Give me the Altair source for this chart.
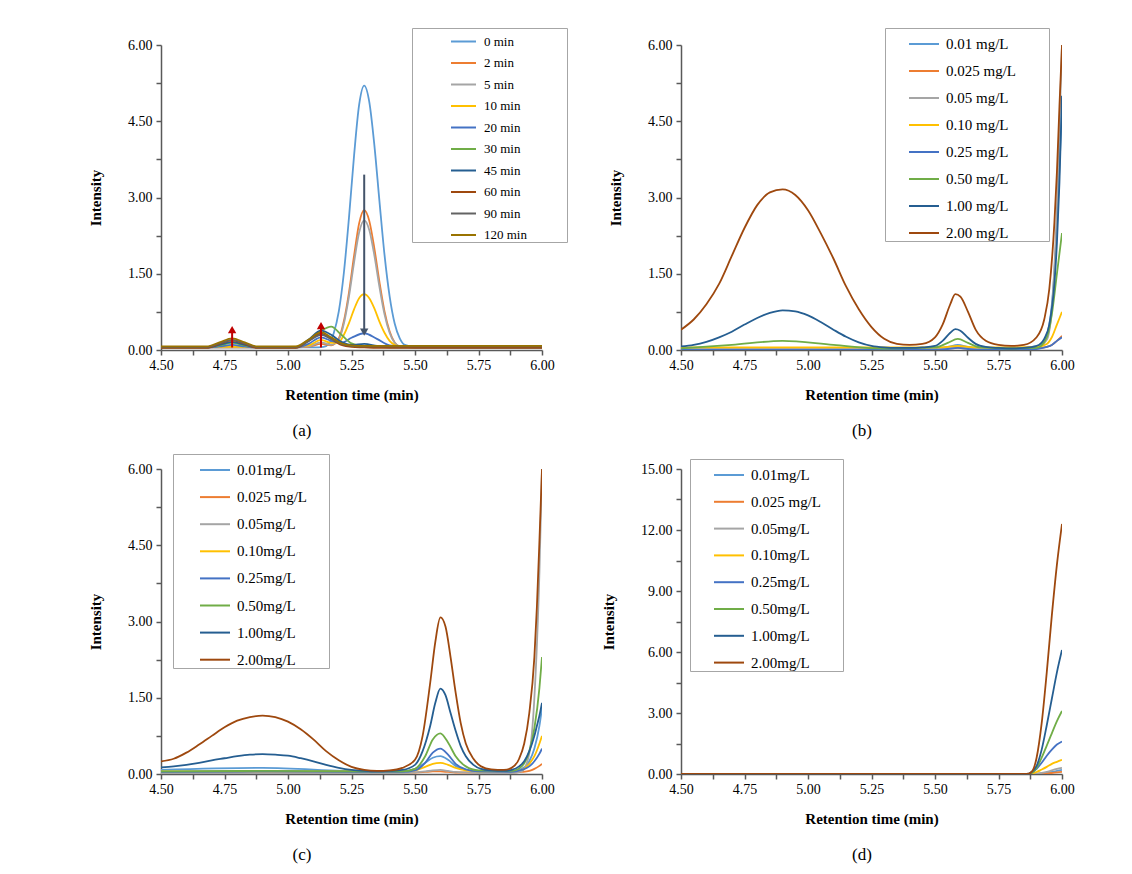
import altair as alt
import pandas as pd

FONT = "Liberation Serif"
BLANK = "\u2800"

# ---------------- tick values ----------------
X_TICKS = [4.5, 4.625, 4.75, 4.875, 5.0, 5.125, 5.25, 5.375, 5.5, 5.625, 5.75, 5.875, 6.0]
Y_TICKS_6 = [0, 0.75, 1.5, 2.25, 3, 3.75, 4.5, 5.25, 6]
Y_TICKS_15 = [0, 1.5, 3, 4.5, 6, 7.5, 9, 10.5, 12, 13.5, 15]

# ---------------- colours ----------------
PAL_A = ["#5B9BD5", "#ED7D31", "#A5A5A5", "#FFC000", "#4472C4", "#70AD47",
         "#255E91", "#9E480E", "#636363", "#997300"]
PAL_B = PAL_A[:8]

# ---------------- panel (a) ----------------
A_NAMES = ["0 min", "2 min", "5 min", "10 min", "20 min", "30 min", "45 min",
           "60 min", "90 min", "120 min"]
A_X_PEAK0 = [4.50, 4.75, 5.00, 5.10, 5.14, 5.16, 5.18, 5.20, 5.22, 5.24, 5.26, 5.28,
             5.30, 5.32, 5.34, 5.36, 5.38, 5.40, 5.42, 5.44, 5.46, 5.50, 5.75, 6.00]
A_Y_0MIN = [0.06, 0.05, 0.05, 0.05, 0.06, 0.12, 0.33, 0.76, 1.52, 2.60, 3.82, 4.82,
            5.20, 4.88, 4.03, 2.93, 1.87, 1.06, 0.52, 0.23, 0.10, 0.06, 0.05, 0.05]
A_X_MAIN = [4.50, 4.75, 5.00, 5.08, 5.13, 5.17, 5.20, 5.22, 5.24, 5.26, 5.28,
            5.30, 5.32, 5.34, 5.36, 5.38, 5.40, 5.42, 5.44, 5.50, 5.75, 6.00]
A_Y_2MIN = [0.05, 0.05, 0.05, 0.06, 0.12, 0.09, 0.23, 0.57, 1.13, 1.85, 2.49,
            2.75, 2.54, 2.00, 1.34, 0.76, 0.37, 0.15, 0.07, 0.05, 0.05, 0.05]
A_Y_5MIN = [0.05, 0.05, 0.05, 0.07, 0.15, 0.10, 0.20, 0.52, 1.05, 1.72, 2.31,
            2.55, 2.36, 1.86, 1.24, 0.70, 0.34, 0.14, 0.07, 0.05, 0.05, 0.05]
A_Y_10MIN = [0.06, 0.06, 0.06, 0.09, 0.20, 0.14, 0.15, 0.30, 0.53, 0.80, 1.02,
             1.10, 1.02, 0.82, 0.56, 0.34, 0.18, 0.10, 0.07, 0.06, 0.06, 0.06]
A_X_BUMP = [4.50, 4.68, 4.73, 4.78, 4.83, 4.88, 5.03, 5.08, 5.13, 5.17, 5.21,
            5.25, 5.30, 5.35, 5.40, 5.50, 6.00]
A_Y_20MIN = [0.05, 0.05, 0.07, 0.10, 0.07, 0.05, 0.05, 0.12, 0.25, 0.18, 0.14,
             0.24, 0.33, 0.22, 0.09, 0.05, 0.05]
A_Y_30MIN = [0.05, 0.05, 0.09, 0.14, 0.09, 0.05, 0.05, 0.18, 0.38, 0.46, 0.30,
             0.13, 0.07, 0.06, 0.05, 0.05, 0.05]
A_Y_45MIN = [0.05, 0.05, 0.10, 0.16, 0.10, 0.05, 0.05, 0.20, 0.38, 0.30, 0.16,
             0.10, 0.12, 0.08, 0.05, 0.05, 0.05]
A_Y_60MIN = [0.04, 0.04, 0.12, 0.19, 0.12, 0.04, 0.04, 0.18, 0.32, 0.22, 0.10,
             0.06, 0.05, 0.04, 0.04, 0.04, 0.04]
A_Y_90MIN = [0.06, 0.06, 0.13, 0.20, 0.13, 0.06, 0.06, 0.17, 0.30, 0.22, 0.12,
             0.08, 0.07, 0.07, 0.07, 0.07, 0.07]
A_Y_120MIN = [0.07, 0.07, 0.15, 0.23, 0.15, 0.07, 0.07, 0.20, 0.35, 0.25, 0.13,
              0.09, 0.08, 0.08, 0.08, 0.08, 0.08]

A_ARROW_X = [4.78, 5.13, 5.30]
A_ARROW_FROM = [0.05, 0.05, 3.45]
A_ARROW_TO = [0.40, 0.48, 0.35]
A_ARROW_SHAPE = ["triangle-up", "triangle-up", "triangle-down"]
A_ARROW_COLOR = ["#C00000", "#C00000", "#44546A"]

# ---------------- panel (b) ----------------
B_NAMES = ["0.01 mg/L", "0.025 mg/L", "0.05 mg/L", "0.10 mg/L", "0.25 mg/L",
           "0.50 mg/L", "1.00 mg/L", "2.00 mg/L"]
B_X_BIG = [4.50, 4.55, 4.60, 4.65, 4.70, 4.75, 4.80, 4.85, 4.90, 4.95, 5.00, 5.05,
           5.10, 5.15, 5.20, 5.25, 5.30, 5.35, 5.40, 5.45, 5.50, 5.53, 5.56, 5.58,
           5.60, 5.63, 5.66, 5.70, 5.75, 5.80, 5.85, 5.90, 5.93, 5.95, 5.97, 5.98,
           5.99, 6.00]
B_Y_200 = [0.40, 0.60, 0.90, 1.30, 1.85, 2.40, 2.85, 3.10, 3.16, 3.05, 2.75, 2.30,
           1.80, 1.25, 0.80, 0.45, 0.22, 0.12, 0.10, 0.12, 0.25, 0.50, 0.90, 1.10,
           1.05, 0.75, 0.40, 0.18, 0.10, 0.08, 0.10, 0.25, 0.60, 1.20, 2.50, 3.50,
           4.80, 6.00]
B_Y_100 = [0.07, 0.10, 0.16, 0.25, 0.36, 0.50, 0.63, 0.73, 0.78, 0.76, 0.68, 0.55,
           0.40, 0.26, 0.15, 0.08, 0.05, 0.04, 0.04, 0.05, 0.08, 0.18, 0.34, 0.41,
           0.38, 0.24, 0.12, 0.06, 0.04, 0.03, 0.04, 0.08, 0.22, 0.50, 1.30, 2.10,
           3.30, 5.00]
B_X_SMALL = [4.50, 4.70, 4.90, 5.10, 5.30, 5.50, 5.55, 5.59, 5.63, 5.68, 5.80,
             5.90, 5.94, 5.96, 5.98, 6.00]
B_Y_001 = [0.03, 0.03, 0.04, 0.03, 0.02, 0.03, 0.06, 0.10, 0.06, 0.03, 0.02,
           0.05, 0.30, 0.90, 2.40, 4.80]
B_Y_0025 = [0.02, 0.02, 0.02, 0.02, 0.02, 0.02, 0.03, 0.04, 0.03, 0.02, 0.02,
            0.03, 0.06, 0.10, 0.18, 0.28]
B_Y_005 = [0.02, 0.02, 0.02, 0.02, 0.02, 0.02, 0.04, 0.08, 0.04, 0.02, 0.02,
           0.04, 0.20, 0.80, 2.80, 6.00]
B_Y_010 = [0.05, 0.05, 0.05, 0.05, 0.05, 0.05, 0.06, 0.08, 0.06, 0.05, 0.05,
           0.06, 0.12, 0.25, 0.50, 0.75]
B_Y_025 = [0.00, 0.00, 0.00, 0.00, 0.00, 0.00, 0.02, 0.04, 0.02, 0.00, 0.00,
           0.02, 0.06, 0.10, 0.18, 0.25]
B_Y_050 = [0.03, 0.10, 0.18, 0.10, 0.03, 0.05, 0.14, 0.22, 0.14, 0.05, 0.03,
           0.04, 0.25, 0.70, 1.50, 2.30]

# ---------------- panel (c) ----------------
CD_NAMES = ["0.01mg/L", "0.025 mg/L", "0.05mg/L", "0.10mg/L", "0.25mg/L",
            "0.50mg/L", "1.00mg/L", "2.00mg/L"]
C_X_BIG = [4.50, 4.55, 4.60, 4.65, 4.70, 4.75, 4.80, 4.85, 4.90, 4.95, 5.00, 5.05,
           5.10, 5.15, 5.20, 5.25, 5.30, 5.35, 5.40, 5.45, 5.50, 5.53, 5.56, 5.58,
           5.60, 5.62, 5.64, 5.66, 5.68, 5.70, 5.73, 5.76, 5.80, 5.85, 5.88, 5.91,
           5.93, 5.95, 5.97, 5.98, 5.99, 6.00]
C_Y_200 = [0.25, 0.30, 0.42, 0.58, 0.75, 0.92, 1.05, 1.12, 1.15, 1.12, 1.03, 0.88,
           0.68, 0.45, 0.27, 0.14, 0.08, 0.06, 0.07, 0.12, 0.28, 0.75, 1.80, 2.60,
           3.08, 2.90, 2.30, 1.60, 1.00, 0.60, 0.30, 0.15, 0.09, 0.08, 0.12, 0.30,
           0.60, 1.20, 2.30, 3.30, 4.60, 6.00]
C_Y_100 = [0.13, 0.15, 0.18, 0.22, 0.27, 0.31, 0.35, 0.38, 0.39, 0.38, 0.36, 0.31,
           0.25, 0.18, 0.12, 0.08, 0.06, 0.05, 0.06, 0.08, 0.18, 0.45, 0.95, 1.40,
           1.68, 1.55, 1.20, 0.85, 0.55, 0.35, 0.18, 0.10, 0.07, 0.06, 0.08, 0.15,
           0.25, 0.45, 0.75, 0.95, 1.15, 1.40]
C_X_SMALL = [4.50, 4.90, 5.30, 5.45, 5.50, 5.54, 5.57, 5.60, 5.63, 5.66, 5.70,
             5.75, 5.88, 5.92, 5.95, 5.97, 5.99, 6.00]
C_Y_001 = [0.08, 0.12, 0.05, 0.05, 0.10, 0.22, 0.32, 0.35, 0.28, 0.16, 0.08,
           0.06, 0.05, 0.10, 0.25, 0.50, 0.95, 1.30]
C_Y_0025 = [0.03, 0.03, 0.03, 0.03, 0.03, 0.04, 0.05, 0.05, 0.04, 0.03, 0.03,
            0.03, 0.03, 0.04, 0.06, 0.10, 0.16, 0.20]
C_Y_005 = [0.02, 0.02, 0.02, 0.02, 0.03, 0.05, 0.07, 0.08, 0.06, 0.04, 0.03,
           0.02, 0.02, 0.05, 0.40, 1.50, 4.00, 6.00]
C_Y_010 = [0.05, 0.05, 0.05, 0.05, 0.07, 0.14, 0.20, 0.22, 0.18, 0.12, 0.07,
           0.05, 0.05, 0.08, 0.20, 0.35, 0.60, 0.75]
C_Y_025 = [0.04, 0.05, 0.04, 0.04, 0.07, 0.22, 0.42, 0.50, 0.38, 0.20, 0.09,
           0.05, 0.04, 0.08, 0.15, 0.25, 0.40, 0.50]
C_Y_050 = [0.05, 0.06, 0.05, 0.05, 0.10, 0.35, 0.68, 0.80, 0.62, 0.35, 0.15,
           0.07, 0.06, 0.15, 0.45, 0.90, 1.70, 2.30]

# ---------------- panel (d) ----------------
D_X = [4.50, 5.80, 5.86, 5.88, 5.90, 5.92, 5.94, 5.96, 5.98, 6.00]
D_Y_001 = [0.0, 0.0, 0.0, 0.0, 0.01, 0.03, 0.06, 0.10, 0.15, 0.20]
D_Y_0025 = [0.0, 0.0, 0.0, 0.0, 0.0, 0.02, 0.03, 0.05, 0.08, 0.10]
D_Y_005 = [0.0, 0.0, 0.0, 0.0, 0.02, 0.05, 0.10, 0.18, 0.25, 0.30]
D_Y_010 = [0.0, 0.0, 0.0, 0.02, 0.10, 0.22, 0.35, 0.50, 0.60, 0.70]
D_Y_025 = [0.0, 0.0, 0.0, 0.05, 0.25, 0.55, 0.90, 1.20, 1.45, 1.60]
D_Y_050 = [0.0, 0.0, 0.0, 0.05, 0.30, 0.80, 1.40, 2.00, 2.60, 3.10]
D_Y_100 = [0.0, 0.0, 0.0, 0.10, 0.40, 1.20, 2.40, 3.70, 5.00, 6.10]
D_Y_200 = [0.0, 0.0, 0.0, 0.10, 0.80, 2.50, 5.00, 7.80, 10.30, 12.30]

W, H = 381, 305
AX_COLOR = "#595959"


def make_df(names, xs_list, ys_list):
    rows = []
    for i, (n, xs, ys) in enumerate(zip(names, xs_list, ys_list)):
        for x, y in zip(xs, ys):
            rows.append({"series": n, "x": x, "y": y, "k": i})
    return pd.DataFrame(rows)


def x_enc(field="x"):
    return alt.X(
        f"{field}:Q",
        scale=alt.Scale(domain=[4.5, 6.0], nice=False, zero=False),
        axis=alt.Axis(
            title="Retention time (min)", values=X_TICKS,
            labelExpr="abs(datum.value*4 - round(datum.value*4)) < 0.001 ? format(datum.value, '.2f') : ''",
            labelFont=FONT, labelFontSize=14, labelColor="black", labelPadding=3,
            labelFlush=False, labelOverlap=False,
            titleFont=FONT, titleFontSize=15, titleFontWeight="bold", titleColor="black",
            titlePadding=15, tickSize=5, tickColor=AX_COLOR, tickWidth=1.5,
            domainColor=AX_COLOR, domainWidth=1.5, grid=False,
        ),
    )


def y_enc(ymax, ticks, step, field="y"):
    return alt.Y(
        f"{field}:Q",
        scale=alt.Scale(domain=[0, ymax], nice=False),
        axis=alt.Axis(
            title="Intensity", values=ticks,
            labelExpr=f"abs(datum.value/{step} - round(datum.value/{step})) < 0.001 ? format(datum.value, '.2f') : ''",
            labelFont=FONT, labelFontSize=14, labelColor="black", labelPadding=4,
            labelFlush=False, labelOverlap=False,
            titleFont=FONT, titleFontSize=15, titleFontWeight="bold", titleColor="black",
            titlePadding=24, tickSize=5, tickColor=AX_COLOR, tickWidth=1.5,
            domainColor=AX_COLOR, domainWidth=1.5, grid=False,
        ),
    )


def panel(names, pal, xs_list, ys_list, ymax, ticks, step, leg, caption, cap_x, extra=()):
    df = make_df(names, xs_list, ys_list)
    pad = BLANK * leg["pad"]
    legend = alt.Legend(
        title=None, orient="none", legendX=leg["x"], legendY=leg["y"],
        symbolType="stroke", symbolSize=leg["ss"], symbolStrokeWidth=2,
        labelFont=FONT, labelFontSize=leg["fs"], labelColor="black",
        labelOffset=leg["lo"], symbolOffset=leg["so"], rowPadding=leg["rp"],
        padding=0, fillColor="white", strokeColor="#A6A6A6", labelLimit=400,
        labelExpr=f"datum.label + '{pad}'",
    )
    lines = alt.Chart(df).mark_line(interpolate="monotone", strokeWidth=1.8, clip=True).encode(
        x=x_enc(), y=y_enc(ymax, ticks, step),
        color=alt.Color("series:N", scale=alt.Scale(domain=names, range=pal), legend=legend),
        order=alt.Order("k:Q"),
    )
    cap = alt.Chart(pd.DataFrame({"t": [caption]})).mark_text(
        font=FONT, fontSize=17, align="center", baseline="middle", color="black"
    ).encode(text="t:N", x=alt.value(cap_x), y=alt.value(386))
    return alt.layer(lines, *[e(ymax, ticks, step) for e in extra], cap).properties(width=W, height=H)


def arrows_rule(ymax, ticks, step):
    df = pd.DataFrame({"x": A_ARROW_X, "y1": A_ARROW_FROM, "y2": A_ARROW_TO, "c": A_ARROW_COLOR})
    return alt.Chart(df).mark_rule(strokeWidth=2).encode(
        x=x_enc(), y=y_enc(ymax, ticks, step, "y1"), y2="y2:Q",
        stroke=alt.Stroke("c:N", scale=None),
    )


def arrows_head(ymax, ticks, step):
    df = pd.DataFrame({"x": A_ARROW_X, "y": A_ARROW_TO, "s": A_ARROW_SHAPE, "c": A_ARROW_COLOR})
    return alt.Chart(df).mark_point(filled=True, size=70, opacity=1, strokeWidth=0).encode(
        x=x_enc(), y=y_enc(ymax, ticks, step),
        shape=alt.Shape("s:N", scale=None), fill=alt.Fill("c:N", scale=None),
    )


pa = panel(A_NAMES, PAL_A,
           [A_X_PEAK0, A_X_MAIN, A_X_MAIN, A_X_MAIN, A_X_BUMP, A_X_BUMP, A_X_BUMP,
            A_X_BUMP, A_X_BUMP, A_X_BUMP],
           [A_Y_0MIN, A_Y_2MIN, A_Y_5MIN, A_Y_10MIN, A_Y_20MIN, A_Y_30MIN, A_Y_45MIN,
            A_Y_60MIN, A_Y_90MIN, A_Y_120MIN],
           6, Y_TICKS_6, 1.5,
           {"x": 251, "y": -17, "ss": 625, "fs": 13, "lo": 7, "so": 38, "rp": 0.5, "pad": 4},
           "(a)", 141, extra=(arrows_rule, arrows_head))

pb = panel(B_NAMES, PAL_B,
           [B_X_SMALL, B_X_SMALL, B_X_SMALL, B_X_SMALL, B_X_SMALL, B_X_SMALL, B_X_BIG, B_X_BIG],
           [B_Y_001, B_Y_0025, B_Y_005, B_Y_010, B_Y_025, B_Y_050, B_Y_100, B_Y_200],
           6, Y_TICKS_6, 1.5,
           {"x": 204, "y": -17, "ss": 900, "fs": 15, "lo": 6, "so": 23, "rp": 3.0, "pad": 3},
           "(b)", 181)

pc = panel(CD_NAMES, PAL_B,
           [C_X_SMALL, C_X_SMALL, C_X_SMALL, C_X_SMALL, C_X_SMALL, C_X_SMALL, C_X_BIG, C_X_BIG],
           [C_Y_001, C_Y_0025, C_Y_005, C_Y_010, C_Y_025, C_Y_050, C_Y_100, C_Y_200],
           6, Y_TICKS_6, 1.5,
           {"x": 12, "y": -15, "ss": 900, "fs": 15, "lo": 6, "so": 26, "rp": 3.1, "pad": 2},
           "(c)", 141)

pd_ = panel(CD_NAMES, PAL_B,
            [D_X] * 8,
            [D_Y_001, D_Y_0025, D_Y_005, D_Y_010, D_Y_025, D_Y_050, D_Y_100, D_Y_200],
            15, Y_TICKS_15, 3,
            {"x": 9, "y": -10, "ss": 900, "fs": 15, "lo": 6, "so": 23, "rp": 2.8, "pad": 2},
            "(d)", 181)

chart = alt.concat(
    pa, pb, pc, pd_, columns=2, spacing={"row": 119, "column": 139}, bounds="flush"
).resolve_scale(
    color="independent", x="independent", y="independent"
).resolve_legend(color="independent").properties(
    padding={"left": 80, "top": 19, "right": 5, "bottom": 5},
    background="white",
).configure_view(stroke=None)

chart.save("out.html", embed_options={"renderer": "svg", "actions": False})
